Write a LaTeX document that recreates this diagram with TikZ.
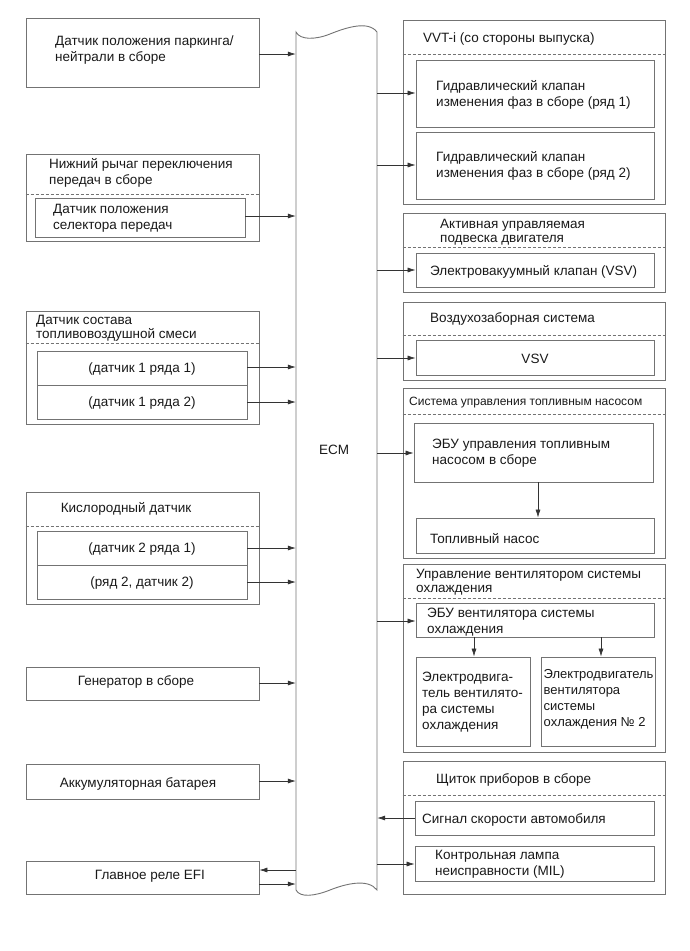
\documentclass[tikz,border=0pt]{standalone}
\usepackage{fontspec}
\setmainfont{Liberation Sans}
\usetikzlibrary{arrows.meta,fit}
\begin{document}
\begin{tikzpicture}[x=1pt,y=-1pt,
  box/.style={draw=black!55, line width=0.8pt, inner sep=0pt},
  txt/.style={font=\fontsize{13.5}{16}\selectfont, inner sep=0pt, align=left, anchor=west, text=black!90, yshift=-1.5pt},
  ctxt/.style={font=\fontsize{13.5}{16}\selectfont, inner sep=0pt, align=center, text=black!90, yshift=-1.5pt},
  sep/.style={draw=black!55, line width=0.7pt, dash pattern=on 3pt off 2pt},
  conn/.style={draw=black!80, line width=0.7pt, -{Latex[length=8pt,width=5pt]}},
  bar/.style={draw=black!55, line width=0.9pt}]
\useasboundingbox (0,0) rectangle (689,951);
% ECM bar
\draw[bar] (377,32) -- (377,890) .. controls (368,878) and (345,884) .. (330,890) .. controls (315,896) and (300,898) .. (296,890) -- (296,32) .. controls (300,40) and (315,40) .. (330,34) .. controls (345,28) and (368,20) .. (377,32);
\node[inner sep=0pt, fit={(296,32) (377,890)}] (ecm) {};
\node[ctxt] (ecmlbl) at (334,448) {ECM};

% ---------- Left side ----------
\node[box, fit={(26,18) (259,87)}] (b1) {};
\node[txt] at (55,49) {Датчик положения паркинга/\\нейтрали в сборе};
\draw[conn] (259,54) -- (ecm.west |- 0,54);

\node[box, fit={(26,154) (259,241)}] (b2) {};
\node[txt] at (49,171) {Нижний рычаг переключения\\передач в сборе};
\draw[sep] (b2.west |- 0,194) -- (b2.east |- 0,194);
\node[box, fit={(35,198) (245,237)}] (b2a) {};
\node[txt] at (53,217) {Датчик положения\\селектора передач};
\draw[conn] (b2a.east |- 0,216) -- (ecm.west |- 0,216);

\node[box, fit={(26,311) (259,424)}] (b3) {};
\node[txt, font=\fontsize{13.5}{14}\selectfont] at (36,327) {Датчик состава\\топливовоздушной смеси};
\draw[sep] (b3.west |- 0,343) -- (b3.east |- 0,343);
\node[box, fit={(37,351) (247,385)}] (b3a) {};
\node[box, fit={(37,385) (247,419)}] (b3b) {};
\node[ctxt] at (b3a) {(датчик 1 ряда 1)};
\node[ctxt] at (b3b) {(датчик 1 ряда 2)};
\draw[conn] (b3a.east |- 0,367) -- (ecm.west |- 0,367);
\draw[conn] (b3b.east |- 0,402) -- (ecm.west |- 0,402);

\node[box, fit={(26,492) (259,604)}] (b4) {};
\node[ctxt] at (126,507) {Кислородный датчик};
\draw[sep] (b4.west |- 0,526) -- (b4.east |- 0,526);
\node[box, fit={(37,531) (247,565)}] (b4a) {};
\node[box, fit={(37,565) (247,599)}] (b4b) {};
\node[ctxt] at (b4a) {(датчик 2 ряда 1)};
\node[ctxt] at (b4b) {(ряд 2, датчик 2)};
\draw[conn] (b4a.east |- 0,548) -- (ecm.west |- 0,548);
\draw[conn] (b4b.east |- 0,582) -- (ecm.west |- 0,582);

\node[box, fit={(26,667) (259,700)}] (b5) {};
\node[ctxt] at (136,680) {Генератор в сборе};
\draw[conn] (b5.east |- 0,683) -- (ecm.west |- 0,683);

\node[box, fit={(26,764) (259,799)}] (b6) {};
\node[ctxt] at (138,782) {Аккумуляторная батарея};
\draw[conn] (b6.east |- 0,781) -- (ecm.west |- 0,781);

\node[box, fit={(26,861) (259,894)}] (b7) {};
\node[ctxt] at (150,875) {Главное реле EFI};
\draw[conn] (ecm.west |- 0,870) -- (b7.east |- 0,870);
\draw[conn] (b7.east |- 0,884) -- (ecm.west |- 0,884);

% ---------- Right side ----------
\node[box, fit={(403,20) (665,204)}] (r1) {};
\node[txt] at (423,38) {VVT-i (со стороны выпуска)};
\draw[sep] (r1.west |- 0,54) -- (r1.east |- 0,54);
\node[box, fit={(416,60) (654,127)}] (r1a) {};
\node[txt] at (436,93) {Гидравлический клапан\\изменения фаз в сборе (ряд 1)};
\draw[conn] (ecm.east |- 0,93) -- (r1a.west |- 0,93);
\node[box, fit={(416,132) (654,199)}] (r1b) {};
\node[txt] at (436,164) {Гидравлический клапан\\изменения фаз в сборе (ряд 2)};
\draw[conn] (ecm.east |- 0,165) -- (r1b.west |- 0,165);

\node[box, fit={(403,213) (665,292)}] (r2) {};
\node[txt, font=\fontsize{13.5}{14}\selectfont] at (440,231) {Активная управляемая\\подвеска двигателя};
\draw[sep] (r2.west |- 0,247) -- (r2.east |- 0,247);
\node[box, fit={(416,253) (654,287)}] (r2a) {};
\node[txt] at (430,270) {Электровакуумный клапан (VSV)};
\draw[conn] (ecm.east |- 0,270) -- (r2a.west |- 0,270);

\node[box, fit={(403,302) (665,380)}] (r3) {};
\node[txt] at (430,317) {Воздухозаборная система};
\draw[sep] (r3.west |- 0,335) -- (r3.east |- 0,335);
\node[box, fit={(416,340) (654,375)}] (r3a) {};
\node[ctxt] at (r3a) {VSV};
\draw[conn] (ecm.east |- 0,358) -- (r3a.west |- 0,358);

\node[box, fit={(403,388) (665,558)}] (r4) {};
\node[txt, font=\fontsize{12}{13}\selectfont] at (409,401) {Система управления топливным насосом};
\draw[sep] (r4.west |- 0,414) -- (r4.east |- 0,414);
\node[box, fit={(414,423) (653,482)}] (r4a) {};
\node[txt] at (432,452) {ЭБУ управления топливным\\насосом в сборе};
\draw[conn] (ecm.east |- 0,453) -- (r4a.west |- 0,453);
\node[box, fit={(416,518) (654,553)}] (r4b) {};
\node[txt] at (430,537) {Топливный насос};
\draw[conn] (r4a.south -| 538,0) -- (r4b.north -| 538,0);

\node[box, fit={(403,564) (665,752)}] (r5) {};
\node[txt, font=\fontsize{13.5}{14}\selectfont] at (416,581) {Управление вентилятором системы\\охлаждения};
\draw[sep] (r5.west |- 0,598) -- (r5.east |- 0,598);
\node[box, fit={(416,603) (654,637)}] (r5a) {};
\node[txt] at (427,621) {ЭБУ вентилятора системы\\охлаждения};
\draw[conn] (ecm.east |- 0,621) -- (r5a.west |- 0,621);
\node[box, fit={(416,657) (530,746)}] (r5b) {};
\node[txt] at (422,701) {Электродвига-\\тель вентилято-\\ра системы\\охлаждения};
\node[box, fit={(541,657) (655,746)}] (r5c) {};
\node[txt, font=\fontsize{13}{16}\selectfont] at (543.5,698) {Электродвигатель\\вентилятора\\системы\\охлаждения №~2};
\draw[conn] (r5a.south -| 474,0) -- (r5b.north -| 474,0);
\draw[conn] (r5a.south -| 601,0) -- (r5c.north -| 601,0);

\node[box, fit={(403,761) (665,894)}] (r6) {};
\node[txt] at (436,778) {Щиток приборов в сборе};
\draw[sep] (r6.west |- 0,795) -- (r6.east |- 0,795);
\node[box, fit={(415,801) (654,835)}] (r6a) {};
\node[txt] at (422,818) {Сигнал скорости автомобиля};
\draw[conn] (r6a.west |- 0,818) -- (ecm.east |- 0,818);
\node[box, fit={(415,846) (654,881)}] (r6b) {};
\node[txt] at (435,863) {Контрольная лампа\\неисправности (MIL)};
\draw[conn] (ecm.east |- 0,864) -- (r6b.west |- 0,864);
\end{tikzpicture}
\end{document}
